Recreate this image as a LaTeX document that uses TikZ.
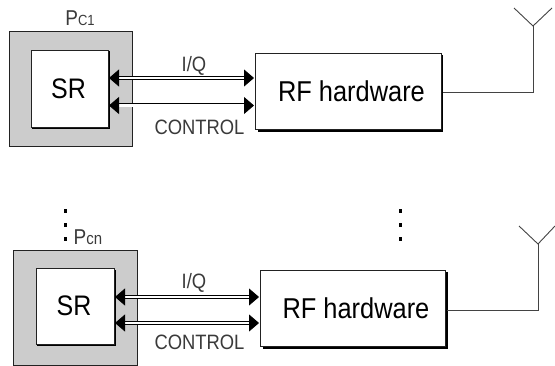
\documentclass[tikz,border=0pt]{standalone}
\usepackage{fontspec}
\setmainfont{Liberation Sans}
\usetikzlibrary{arrows.meta}
\definecolor{pcgray}{HTML}{CCCCCC}
\definecolor{ink}{HTML}{222222}
\definecolor{soft}{HTML}{3A3A3A}
\newcommand{\tallit}[1]{\scalebox{1}[1.13]{#1}}
\tikzset{
  pcbox/.style={draw=ink,fill=pcgray,line width=.9pt,minimum width=#1,inner sep=0pt,outer sep=0pt},
  srbox/.style={draw=ink,fill=white,line width=.9pt,inner sep=0pt,outer sep=0pt,font=\fontsize{25}{25}\selectfont},
  hwbox/.style={draw=ink,fill=white,line width=.9pt,inner sep=0pt,outer sep=0pt,font=\fontsize{25.4}{25.4}\selectfont},
  shade line/.style={black,line width=2.4pt},
  bus/.style={draw=black,double=white,double distance=2.2pt,line width=.9pt,
    {Triangle[length=10pt,width=17pt]}-{Triangle[length=10pt,width=17pt]}},
  wire/.style={draw=ink!85,line width=.9pt},
  lbl/.style={text=soft,inner sep=0pt,font=\fontsize{18.4}{18.4}\selectfont},
  dotmark/.style={fill=black,minimum size=3.2pt,inner sep=0pt,outer sep=0pt}
}
\begin{document}
\begin{tikzpicture}[x=1pt,y=-1pt]
\useasboundingbox (0,0) rectangle (555,366);
% top group
\node[pcbox=123pt,minimum height=115pt,anchor=north west] (pc1) at (9,31) {};
\node[lbl,anchor=base] (pc1l) at (80,26) {\tallit{\fontsize{19}{19}\selectfont P\fontsize{13}{13}\selectfont C1}};
\draw[shade line] (108.5,51) -- (108.5,128) -- (32,128);
\node[srbox,minimum width=77pt,minimum height=77pt,anchor=north west] (sr1) at (31,50) {\tallit{SR}\hspace*{2pt}};
\draw[shade line] (442,55) -- (442,130.5) -- (258,130.5);
\node[hwbox,minimum width=186pt,minimum height=76pt,anchor=north west] (hw1) at (255,53) {\hspace*{7pt}\tallit{RF hardware}};
\coordinate (a1l) at (109,78); \coordinate (a1r) at (254,78);
\coordinate (a2l) at (109,105.5); \coordinate (a2r) at (254,105.5);
\draw[bus] (a1l) -- (a1r);
\draw[bus] (a2l) -- (a2r);
\node[lbl,anchor=base] (iq1) at (194,71.5) {\tallit{I/Q}};
\node[lbl,anchor=base] (ctl1) at (199.5,134.5) {\tallit{CONTROL}};
\coordinate (j1) at (533,26); \coordinate (e1) at (533,92);
\coordinate (l1) at (514,8); \coordinate (r1) at (552,8);
\draw[wire] (443,92) -- (e1) -- (j1);
\draw[wire] (l1) -- (j1) -- (r1);
% bottom group
\node[pcbox=124pt,minimum height=115pt,anchor=north west] (pc2) at (13,250) {};
\draw[shade line] (114.5,270) -- (114.5,345) -- (37,345);
\node[srbox,minimum width=78pt,minimum height=76pt,anchor=north west] (sr2) at (36,268) {\tallit{SR}\hspace*{2pt}};
\draw[shade line] (446.5,272) -- (446.5,347.5) -- (263,347.5);
\node[hwbox,minimum width=185pt,minimum height=76pt,anchor=north west] (hw2) at (260,270) {\hspace*{7pt}\tallit{RF hardware}};
\coordinate (b1l) at (115,297); \coordinate (b1r) at (259,297);
\coordinate (b2l) at (115,323); \coordinate (b2r) at (259,323);
\draw[bus] (b1l) -- (b1r);
\draw[bus] (b2l) -- (b2r);
\node[lbl,anchor=base] (iq2) at (194,288.5) {\tallit{I/Q}};
\node[lbl,anchor=base] (ctl2) at (199.5,350) {\tallit{CONTROL}};
\node[lbl,anchor=base] (pc2l) at (88,245) {\tallit{\fontsize{19}{19}\selectfont P\fontsize{15}{15}\selectfont cn}};
\coordinate (j2) at (538,244); \coordinate (e2) at (538,310);
\coordinate (l2) at (519,226); \coordinate (r2) at (555,226);
\draw[wire] (447,310) -- (e2) -- (j2);
\draw[wire] (l2) -- (j2) -- (r2);
% dots
\foreach \n/\y in {1/211,2/225,3/239}{
  \node[dotmark] (dl\n) at (65.5,\y) {};
  \node[dotmark] (dr\n) at (400.5,\y) {};
}
\end{tikzpicture}
\end{document}
